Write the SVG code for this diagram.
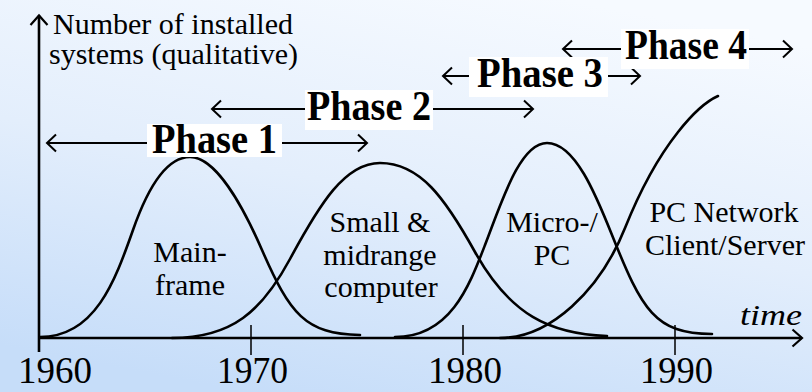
<svg xmlns="http://www.w3.org/2000/svg" width="812" height="392" viewBox="0 0 812 392">
  <defs>
    <linearGradient id="bg" x1="0.7" y1="0" x2="0.3" y2="1">
      <stop offset="0" stop-color="#f6faff"/>
      <stop offset="0.5" stop-color="#e3eefc"/>
      <stop offset="1" stop-color="#c6ddf9"/>
    </linearGradient>
    <marker id="chev" markerUnits="userSpaceOnUse" markerWidth="24" markerHeight="24" viewBox="-12 -12 24 24" refX="0" refY="0" orient="auto-start-reverse">
      <path d="M -9 -8.5 L 0 0 L -9 8.5" fill="none" stroke="#000" stroke-width="2"/>
    </marker>
    <marker id="axchev" markerUnits="userSpaceOnUse" markerWidth="24" markerHeight="24" viewBox="-12 -12 24 24" refX="0" refY="0" orient="auto">
      <path d="M -9.5 -8.5 L 0 0 L -9.5 8.5" fill="none" stroke="#000" stroke-width="2.2"/>
    </marker>
  </defs>
  <style>
    text { font-family: 'Liberation Serif', 'Times New Roman', Times, serif; fill: #000; }
    .lbl { font-size: 30px; }
    .yr { font-size: 38px; }
    .ph { font-size: 42px; font-weight: bold; }
    .curve { fill: none; stroke: #000; stroke-width: 2.6; stroke-linecap: round; }
    .axis { fill: none; stroke: #000; stroke-width: 2.6; }
    .tick { fill: none; stroke: #000; stroke-width: 1.5; }
    .parrow { fill: none; stroke: #000; stroke-width: 2; }
    .box { fill: #fff; }
  </style>

  <rect x="0" y="0" width="812" height="392" fill="url(#bg)"/>

  <g id="axes">
    <path class="axis" d="M 39 352 L 39 15.5" marker-end="url(#axchev)"/>
    <path class="axis" d="M 38 338 L 802 338" marker-end="url(#axchev)"/>
    <path class="tick" d="M 251 325 L 251 355 M 463 325 L 463 355 M 675 325 L 675 355"/>
    <text class="lbl" x="53" y="34">Number of installed</text>
    <text class="lbl" x="49" y="64">systems (qualitative)</text>
    <text class="lbl" x="740" y="325" font-style="italic" textLength="62" lengthAdjust="spacingAndGlyphs">time</text>
    <text class="yr" x="18" y="383" textLength="74" lengthAdjust="spacingAndGlyphs">1960</text>
    <text class="yr" x="217" y="383" textLength="71" lengthAdjust="spacingAndGlyphs">1970</text>
    <text class="yr" x="428" y="383" textLength="74" lengthAdjust="spacingAndGlyphs">1980</text>
    <text class="yr" x="640" y="383" textLength="73" lengthAdjust="spacingAndGlyphs">1990</text>
  </g>

  <g id="mainframe">
    <path class="curve" d="M 40 337 C 95 337 115 281 133 230 C 147 190 165 157 190 157 C 215 157 242 204 262 250 C 290 314 305 334 360 335"/>
    <text class="lbl" x="190" y="262" text-anchor="middle">Main-</text>
    <text class="lbl" x="190" y="295" text-anchor="middle">frame</text>
  </g>

  <g id="midrange">
    <path class="curve" d="M 172 338 C 232 338 262 311 290 259 C 320 203.5 345 163 380 163 C 420 163 445 198 475 252 C 510 315 550 334 607 336"/>
    <text class="lbl" x="380" y="232" text-anchor="middle">Small &amp;</text>
    <text class="lbl" x="380" y="265" text-anchor="middle">midrange</text>
    <text class="lbl" x="381" y="297" text-anchor="middle">computer</text>
  </g>

  <g id="micro-pc">
    <path class="curve" d="M 395 337 C 450 337 469 286.6 485 245 C 502 201 520 143 547 143 C 575 143 596 195 612 235 C 642 310 655 334 712 334"/>
    <text class="lbl" x="552" y="232" text-anchor="middle">Micro-/</text>
    <text class="lbl" x="552" y="265" text-anchor="middle">PC</text>
  </g>

  <g id="pc-network">
    <path class="curve" d="M 500 338 C 550 338 600 290.5 625 228 C 660 140.5 700 104 718 96"/>
    <text class="lbl" x="724" y="222" text-anchor="middle">PC Network</text>
    <text class="lbl" x="725" y="255" text-anchor="middle">Client/Server</text>
  </g>

  <g id="connectors">
    <path class="parrow" d="M 47 143 L 367 143" marker-start="url(#chev)" marker-end="url(#chev)"/>
    <path class="parrow" d="M 212 109 L 533 109" marker-start="url(#chev)" marker-end="url(#chev)"/>
    <path class="parrow" d="M 443 76 L 640 76" marker-start="url(#chev)" marker-end="url(#chev)"/>
    <path class="parrow" d="M 563 49 L 792 49" marker-start="url(#chev)" marker-end="url(#chev)"/>
  </g>

  <g id="phase1">
    <rect class="box" x="147" y="124" width="135" height="33"/>
    <text class="ph" x="152" y="153" textLength="125" lengthAdjust="spacingAndGlyphs">Phase 1</text>
  </g>
  <g id="phase2">
    <rect class="box" x="305" y="90" width="128" height="40"/>
    <text class="ph" x="307" y="120" textLength="124" lengthAdjust="spacingAndGlyphs">Phase 2</text>
  </g>
  <g id="phase3">
    <rect class="box" x="469" y="57" width="139" height="40"/>
    <text class="ph" x="477" y="87" textLength="126" lengthAdjust="spacingAndGlyphs">Phase 3</text>
  </g>
  <g id="phase4">
    <rect class="box" x="621" y="29" width="128" height="40"/>
    <text class="ph" x="625" y="59" textLength="122" lengthAdjust="spacingAndGlyphs">Phase 4</text>
  </g>
</svg>
